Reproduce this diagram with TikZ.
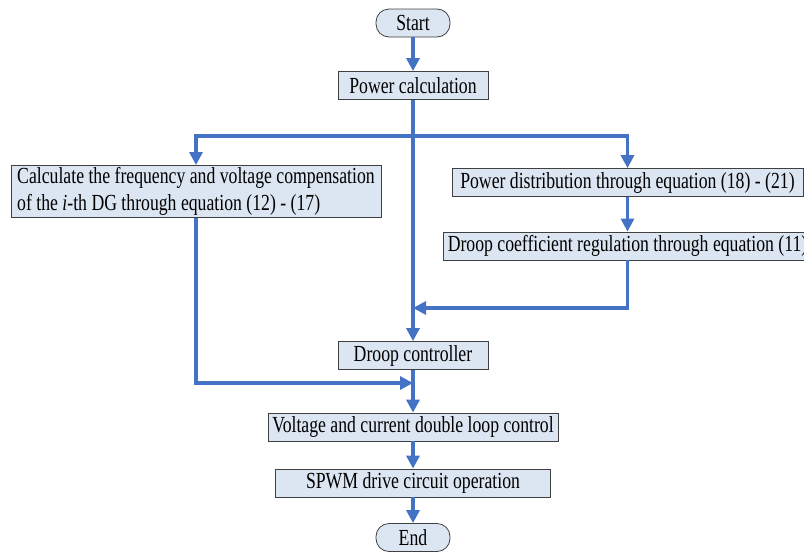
\documentclass[tikz,border=0pt]{standalone}
\usepackage{fontspec}
\setmainfont[FakeStretch=0.77]{Liberation Serif}
\usetikzlibrary{arrows.meta}
\definecolor{boxfill}{RGB}{220,230,242}
\definecolor{flowblue}{RGB}{68,114,196}
\definecolor{boxline}{RGB}{64,64,64}

\begin{document}
\begin{tikzpicture}[x=1pt, y=-1pt,
  block/.style={rectangle, draw=boxline, line width=0.8pt, fill=boxfill, inner xsep=3pt, inner ysep=2pt, minimum height=28pt, font=\fontsize{23}{27}\selectfont},
  terminal/.style={block, rounded corners=13pt, minimum width=74pt},
  line/.style={draw=flowblue, line width=3.1pt, -{Triangle[width=13pt,length=13pt]}},
  plain/.style={draw=flowblue, line width=3.1pt}
]
    \clip (0,0) rectangle (804,552);
    \useasboundingbox (0,0) rectangle (804,552);
    \node [terminal] (start) at (413,23) {Start};
    \node [block, below of=start, node distance=62.5pt, minimum width=150pt] (power) {Power calculation};
    \node [block, align=left, minimum width=370pt, minimum height=47pt] (comp) at (196,191.5) {Calculate the frequency and voltage compensation\\of the \textit{i}-th DG through equation (12) - (17)};
    \node [block, minimum width=351pt] (dist) at (627.5,182.5) {Power distribution through equation (18) - (21)};
    \node [block, below of=dist, node distance=63.5pt, minimum width=368pt] (coef) {Droop coefficient regulation through equation (11)};
    \node [block, below of=power, node distance=270pt, minimum width=150pt] (droop) {Droop controller};
    \node [block, below of=droop, node distance=71.5pt, minimum width=290pt] (loop) {Voltage and current double loop control};
    \node [block, below of=loop, node distance=56pt, minimum width=275pt] (spwm) {SPWM drive circuit operation};
    \node [terminal, below of=spwm, node distance=54.5pt] (end) {End};

    \coordinate (split) at (413,136);
    \coordinate (joinr) at (413,308);
    \coordinate (joinl) at (413,383);

    \path [line] (start) -- (power);
    \path [plain] (comp.north |- split) -- (dist.north |- split);
    \path [line] (split) -| (comp.north);
    \path [line] (split) -| (dist.north);
    \path [line] (power) -- (droop);
    \path [line] (dist) -- (coef);
    \path [line] (coef.south) |- (joinr);
    \path [line] (comp.south) |- (joinl);
    \path [line] (droop) -- (loop);
    \path [line] (loop) -- (spwm);
    \path [line] (spwm) -- (end);
\end{tikzpicture}
\end{document}
